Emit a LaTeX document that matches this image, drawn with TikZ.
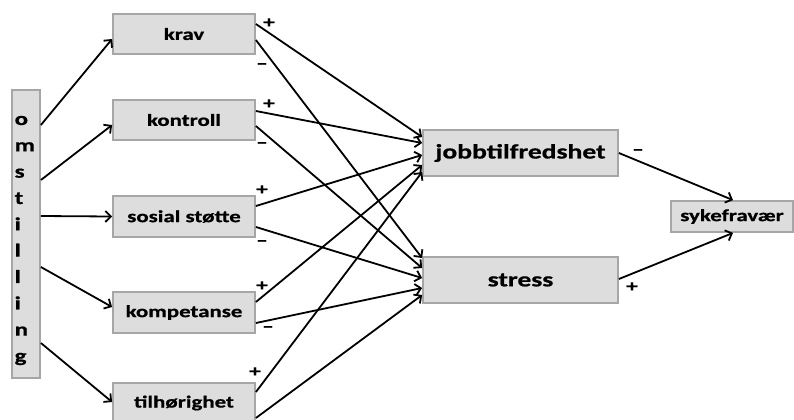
\documentclass[tikz,border=0pt]{standalone}
\usepackage{fontspec}
\setmainfont{Carlito}[FakeStretch=1.35, BoldFeatures={FakeBold=0.8}]
\usetikzlibrary{arrows.meta}
\definecolor{boxfill}{HTML}{DDDDDD}
\definecolor{boxline}{HTML}{A6A6A6}
\begin{document}
\begin{tikzpicture}[x=1bp,y=-1bp,
  box/.style={draw=boxline, fill=boxfill, line width=1.8bp, inner sep=0pt,
    font=\bfseries\fontsize{17}{20}\selectfont},
  bigbox/.style={box, font=\bfseries\fontsize{20.5}{24}\selectfont},
  arr/.style={line width=1.8bp, -{Straight Barb[length=5.5bp,width=11bp,line width=1.8bp]}},
  sgn/.style={font=\bfseries\fontsize{17}{18}\selectfont, inner sep=0pt},
  letter/.style={font=\bfseries\fontsize{18.5}{20}\selectfont, inner sep=0pt, anchor=base west}]

\useasboundingbox (0,0) rectangle (794,419);

% boxes
\node[box, minimum width=28bp, minimum height=288bp] (om) at (26,234) {};
\foreach \l [count=\i] in {o,m,s,t,i,l,l,i,n,g}
  \node[letter] (om\i) at (14.5,{125+(\i-1)*26.33}) {\l};

\node[box, minimum width=142bp, minimum height=40bp] (krav) at (184,34) {krav};
\node[box, minimum width=142bp, minimum height=40bp] (kontroll) at (184,120) {kontroll};
\node[box, minimum width=142bp, minimum height=41bp] (sosial) at (184,216.5) {sosial støtte};
\node[box, minimum width=142bp, minimum height=41bp] (kompetanse) at (184,312.5) {kompetanse};
\node[box, minimum width=142bp, minimum height=40bp] (tilh) at (184,403) {tilhørighet};

\node[bigbox, minimum width=195bp, minimum height=46bp] (jobb) at (520.5,153) {jobbtilfredshet};
\node[bigbox, minimum width=195bp, minimum height=46bp] (stress) at (520.5,280) {stress};
\node[box, minimum width=122bp, minimum height=31bp] (syke) at (732,216.5) {sykefravær};

% omstilling -> factors
\draw[arr] ([yshift=109bp]om.east) -- ([yshift=-5bp]krav.west);
\draw[arr] ([yshift=54bp]om.east) -- ([yshift=-5bp]kontroll.west);
\draw[arr] ([yshift=18bp]om.east) -- (sosial.west);
\draw[arr] ([yshift=-33bp]om.east) -- ([yshift=5.5bp]kompetanse.west);
\draw[arr] ([yshift=-109bp]om.east) -- ([yshift=1bp]tilh.west);

% factors -> jobbtilfredshet / stress
\draw[arr] ([yshift=10bp]krav.east) -- ([yshift=16bp]jobb.west);
\draw[arr] ([yshift=-6bp]krav.east) -- ([yshift=22bp]stress.west);
\draw[arr] ([yshift=9bp]kontroll.east) -- ([yshift=10bp]jobb.west);
\draw[arr] ([yshift=-6bp]kontroll.east) -- ([yshift=12bp]stress.west);
\draw[arr] ([yshift=10.5bp]sosial.east) -- ([yshift=-2bp]jobb.west);
\draw[arr] ([yshift=-10.5bp]sosial.east) -- ([yshift=2bp]stress.west);
\draw[arr] ([yshift=10.5bp]kompetanse.east) -- ([yshift=-12bp]jobb.west);
\draw[arr] ([yshift=-10.5bp]kompetanse.east) -- ([yshift=-8bp]stress.west);
\draw[arr] ([yshift=11bp]tilh.east) -- ([yshift=-19bp]jobb.west);
\draw[arr] ([yshift=-15bp]tilh.east) -- ([yshift=-15bp]stress.west);

% -> sykefravær
\draw[arr] (jobb.east) -- ([xshift=1bp]syke.north);
\draw[arr] ([yshift=1bp]stress.east) -- ([xshift=1bp]syke.south);

% signs
\node[sgn] (s1) at (269,23) {+};
\node[sgn] (s2) at (262,66) {–};
\node[sgn] (s3) at (269,104) {+};
\node[sgn] (s4) at (262,145) {–};
\node[sgn] (s5) at (262,190) {+};
\node[sgn] (s6) at (262,243) {–};
\node[sgn] (s7) at (262,286) {+};
\node[sgn] (s8) at (268,329) {–};
\node[sgn] (s9) at (255,372) {+};
\node[sgn] (s10) at (638,152) {–};
\node[sgn] (s11) at (632,287) {+};
\end{tikzpicture}
\end{document}
